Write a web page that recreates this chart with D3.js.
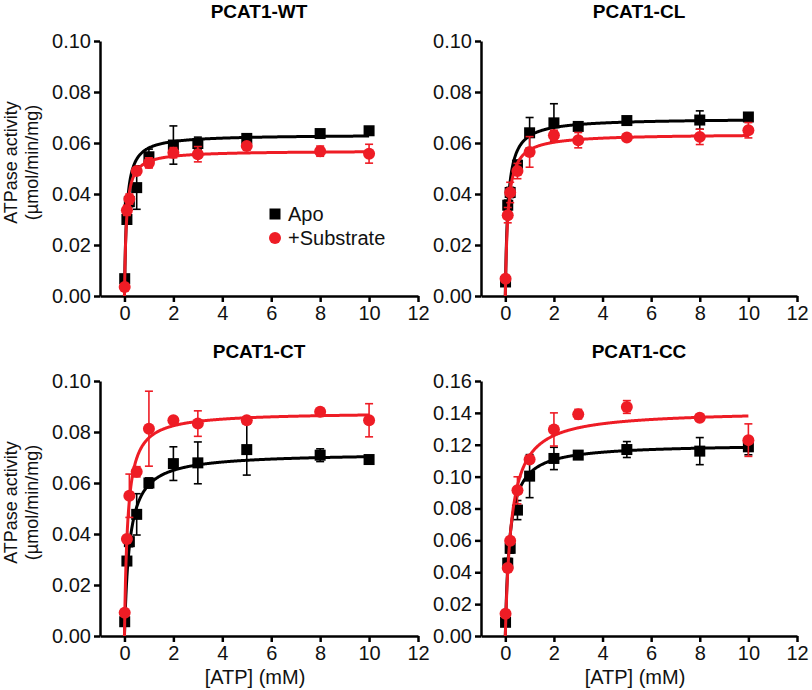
<!DOCTYPE html>
<html><head><meta charset="utf-8">
<script src="https://cdn.jsdelivr.net/npm/d3@7"></script>
<style>
body{margin:0;background:#fff}
text{font-family:Arial,"Liberation Sans",Helvetica,sans-serif}
</style>
</head><body>
<svg id="chart" width="812" height="690"></svg>
<script>
// ---------- data ----------
const atpConc = [0.01, 0.1, 0.2, 0.5, 1, 2, 3, 5, 8, 10];
const panelTitles = ["PCAT1-WT", "PCAT1-CL", "PCAT1-CT", "PCAT1-CC"];
const seriesNames = ["Apo", "+Substrate"];
const xTickValues = [0, 2, 4, 6, 8, 10, 12];
const yMaxValues = [0.10, 0.10, 0.10, 0.16];
const yLabelLines = ["ATPase activity", "(\u00b5mol/min/mg)"];
const xLabel = "[ATP] (mM)";

// PCAT1-WT
const wtApo    = [0.0068, 0.0300, 0.0370, 0.0425, 0.0546, 0.0592, 0.0598, 0.0618, 0.0637, 0.0648];
const wtApoErr = [0.0010, 0.0015, 0.0020, 0.0085, 0.0030, 0.0075, 0.0025, 0.0010, 0.0010, 0.0010];
const wtSub    = [0.0035, 0.0336, 0.0380, 0.0490, 0.0522, 0.0562, 0.0556, 0.0588, 0.0568, 0.0558];
const wtSubErr = [0.0010, 0.0020, 0.0020, 0.0010, 0.0020, 0.0020, 0.0030, 0.0010, 0.0020, 0.0037];
// PCAT1-CL
const clApo    = [0.0055, 0.0356, 0.0406, 0.0513, 0.0640, 0.0679, 0.0665, 0.0688, 0.0690, 0.0702];
const clApoErr = [0.0010, 0.0020, 0.0020, 0.0020, 0.0060, 0.0075, 0.0010, 0.0010, 0.0036, 0.0015];
const clSub    = [0.0068, 0.0317, 0.0406, 0.0490, 0.0565, 0.0630, 0.0611, 0.0622, 0.0624, 0.0650];
const clSubErr = [0.0010, 0.0030, 0.0040, 0.0030, 0.0060, 0.0020, 0.0030, 0.0010, 0.0030, 0.0030];
// PCAT1-CT
const ctApo    = [0.0056, 0.0294, 0.0370, 0.0477, 0.0600, 0.0676, 0.0679, 0.0731, 0.0709, 0.0692];
const ctApoErr = [0.0010, 0.0010, 0.0020, 0.0081, 0.0020, 0.0066, 0.0082, 0.0100, 0.0025, 0.0010];
const ctSub    = [0.0091, 0.0380, 0.0550, 0.0644, 0.0813, 0.0846, 0.0833, 0.0846, 0.0879, 0.0846];
const ctSubErr = [0.0010, 0.0010, 0.0085, 0.0020, 0.0147, 0.0010, 0.0050, 0.0010, 0.0010, 0.0065];
// PCAT1-CC
const ccApo    = [0.0086, 0.0457, 0.0550, 0.0790, 0.1003, 0.1114, 0.1135, 0.1170, 0.1160, 0.1187];
const ccApoErr = [0.0020, 0.0030, 0.0030, 0.0060, 0.0135, 0.0070, 0.0010, 0.0050, 0.0085, 0.0050];
const ccSub    = [0.0140, 0.0426, 0.0597, 0.0914, 0.1108, 0.1296, 0.1392, 0.1437, 0.1369, 0.1229];
const ccSubErr = [0.0010, 0.0020, 0.0020, 0.0085, 0.0020, 0.0104, 0.0030, 0.0040, 0.0020, 0.0102];

// Michaelis-Menten fit parameters: [Vmax, Km]
const wtApoFit = [0.0633, 0.09];
const wtSubFit = [0.0570, 0.08];
const clApoFit = [0.0697, 0.11];
const clSubFit = [0.0636, 0.11];
const ctApoFit = [0.0718, 0.21];
const ctSubFit = [0.0878, 0.13];
const ccApoFit = [0.1205, 0.18];
const ccSubFit = [0.1415, 0.25];

// ---------- layout ----------
const panels = [
  {title: panelTitles[0], ymax: yMaxValues[0], apo: wtApo, apoErr: wtApoErr, sub: wtSub, subErr: wtSubErr, apoFit: wtApoFit, subFit: wtSubFit,
   x0: 100, x1: 418, y0: 296, y1: 41, legend: true, xTitle: false, yTitle: true},
  {title: panelTitles[1], ymax: yMaxValues[1], apo: clApo, apoErr: clApoErr, sub: clSub, subErr: clSubErr, apoFit: clApoFit, subFit: clSubFit,
   x0: 481, x1: 797, y0: 296, y1: 41, legend: false, xTitle: false, yTitle: false},
  {title: panelTitles[2], ymax: yMaxValues[2], apo: ctApo, apoErr: ctApoErr, sub: ctSub, subErr: ctSubErr, apoFit: ctApoFit, subFit: ctSubFit,
   x0: 100, x1: 418, y0: 636, y1: 381, legend: false, xTitle: true, yTitle: true},
  {title: panelTitles[3], ymax: yMaxValues[3], apo: ccApo, apoErr: ccApoErr, sub: ccSub, subErr: ccSubErr, apoFit: ccApoFit, subFit: ccSubFit,
   x0: 481, x1: 797, y0: 636, y1: 381, legend: false, xTitle: true, yTitle: false}
];

const BLACK = "#000000", RED = "#ee1c25";
const svg = d3.select("#chart");

panels.forEach(p => {
  const g = svg.append("g");
  const x = d3.scaleLinear().domain([-1, 12]).range([p.x0, p.x1]);
  const y = d3.scaleLinear().domain([0, p.ymax]).range([p.y0, p.y1]);

  // axes
  const xAxis = d3.axisBottom(x).tickValues(xTickValues).tickSize(6).tickSizeOuter(0).tickPadding(4);
  const yAxis = d3.axisLeft(y).tickValues(d3.range(0, p.ymax + 1e-9, 0.02)).tickFormat(d3.format(".2f"))
                  .tickSize(6).tickSizeOuter(0).tickPadding(3);
  const gx = g.append("g").attr("transform", `translate(0,${p.y0})`).call(xAxis);
  const gy = g.append("g").attr("transform", `translate(${p.x0},0)`).call(yAxis);
  [gx, gy].forEach(a => {
    a.select(".domain").attr("stroke", "#000").attr("stroke-width", 2.5);
    a.selectAll(".tick line").attr("stroke", "#000").attr("stroke-width", 2.5);
    a.selectAll(".tick text").attr("fill", "#111").style("font-size", "20px");
  });

  // title
  g.append("text").attr("x", (p.x0 + p.x1) / 2).attr("y", p.y1 - 23)
    .attr("text-anchor", "middle").style("font-size", "19px").style("font-weight", "bold").text(p.title);

  if (p.xTitle) {
    g.append("text").attr("x", (p.x0 + p.x1) / 2 - 4).attr("y", p.y0 + 48)
      .attr("text-anchor", "middle").style("font-size", "20px").attr("fill", "#111").text(xLabel);
  }
  if (p.yTitle) {
    const cy = (p.y0 + p.y1) / 2 - 6;
    yLabelLines.forEach((line, i) => {
      g.append("text").attr("transform", `translate(${17 + i * 21},${cy}) rotate(-90)`)
        .attr("text-anchor", "middle").style("font-size", "18px").attr("fill", "#111").text(line);
    });
  }

  const curveX = d3.range(0, 10.0001, 0.02);
  const series = [
    {vals: p.apo, err: p.apoErr, fit: p.apoFit, color: BLACK, shape: "square"},
    {vals: p.sub, err: p.subErr, fit: p.subFit, color: RED, shape: "circle"}
  ];
  const line = d3.line().x(d => x(d[0])).y(d => y(d[1]));

  series.forEach(s => {
    // fitted curve
    g.append("path")
      .datum(curveX.map(c => [c, s.fit[0] * c / (s.fit[1] + c)]))
      .attr("fill", "none").attr("stroke", s.color).attr("stroke-width", 3).attr("d", line);
    // error bars
    const eb = g.append("g").attr("stroke", s.color).attr("stroke-width", 1.6);
    atpConc.forEach((c, i) => {
      const cx = x(c), yt = y(s.vals[i] + s.err[i]), yb = y(s.vals[i] - s.err[i]);
      eb.append("line").attr("x1", cx).attr("x2", cx).attr("y1", yt).attr("y2", yb);
      eb.append("line").attr("x1", cx - 4).attr("x2", cx + 4).attr("y1", yt).attr("y2", yt);
      eb.append("line").attr("x1", cx - 4).attr("x2", cx + 4).attr("y1", yb).attr("y2", yb);
    });
    // markers
    atpConc.forEach((c, i) => {
      if (s.shape === "square") {
        g.append("rect").attr("x", x(c) - 5.5).attr("y", y(s.vals[i]) - 5.5)
          .attr("width", 11).attr("height", 11).attr("fill", s.color);
      } else {
        g.append("circle").attr("cx", x(c)).attr("cy", y(s.vals[i])).attr("r", 6).attr("fill", s.color);
      }
    });
  });

  if (p.legend) {
    const lx = 275, ly = 214;
    g.append("rect").attr("x", lx - 5.5).attr("y", ly - 5.5).attr("width", 11).attr("height", 11).attr("fill", BLACK);
    g.append("text").attr("x", lx + 13).attr("y", ly + 7).style("font-size", "20px").attr("fill", "#111").text(seriesNames[0]);
    g.append("circle").attr("cx", lx).attr("cy", ly + 24).attr("r", 6).attr("fill", RED);
    g.append("text").attr("x", lx + 13).attr("y", ly + 31).style("font-size", "20px").attr("fill", "#111").text(seriesNames[1]);
  }
});
</script>
</body></html>
